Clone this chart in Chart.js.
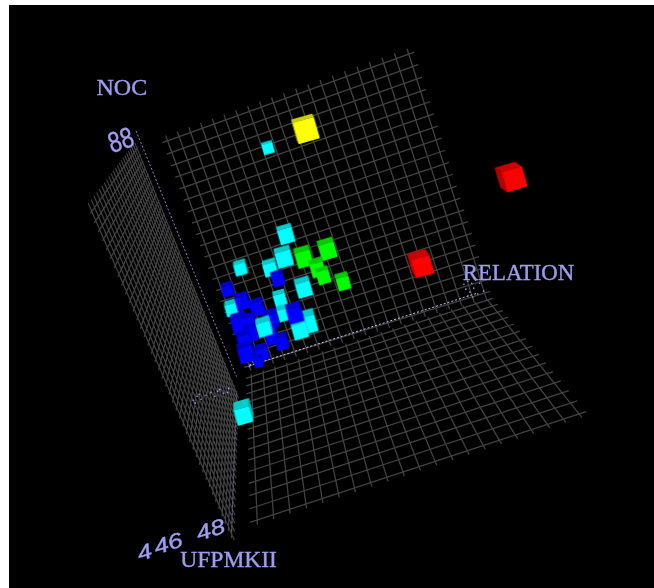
<!DOCTYPE html>
<html>
  <head>
    <script src="https://cdn.jsdelivr.net/npm/chart.js"></script>
    <style>
      body { margin: 0; background: #fff; }
      #cubes { position: absolute; left: 9px; top: 5px; }
    </style>
  </head>

  <body>
    <canvas id="cubes" width="645" height="583"></canvas>

    <script>
      // projected picture plane, one unit per pixel
      const planeX = [9, 654];
      const planeY = [5, 588];

      // 0 blue, 1 cyan, 2 green, 3 yellow, 4 red
      const levelColours = ["#0000ff", "#00ffff", "#00ff00", "#ffff00", "#ff0000"];

      // cubes, painted in this order
      const cubeX = [267, 285, 283, 239, 269, 303, 279, 230, 307, 299, 242,
                     303, 327, 317, 323, 343, 305, 514, 422,
                     277, 226, 241, 256, 270, 238, 248, 250, 243, 271, 281, 245, 261, 257,
                     283, 263, 294];
      const cubeY = [145, 233, 256, 267, 267, 287, 298, 308, 322, 329, 414,
                     256, 248, 267, 275, 281, 126, 175, 263,
                     278, 289, 301, 307, 319, 323, 322, 333, 340, 337, 342, 353, 353, 362,
                     313, 327, 313];
      const cubeDepth = [11, 15, 16, 12, 13, 15, 12, 12, 17, 15, 16,
                         16, 16, 14, 13, 13, 22, 21, 19,
                         12, 11, 13, 13, 14, 15, 13, 13, 13, 12, 12, 15, 12, 9,
                         12, 14, 15];
      const cubeLevel = [1, 1, 1, 1, 1, 1, 1, 1, 1, 1, 1,
                         2, 2, 2, 2, 2, 3, 4, 4,
                         0, 0, 0, 0, 0, 0, 0, 0, 0, 0, 0, 0, 0, 0,
                         1, 1, 0];

      // wall outlines: back-left, back-right, front-right, front-left
      const backWall = [[165, 138], [410, 50], [487, 293], [248, 367]];
      const floorWall = [[250, 378], [490, 300], [583, 416], [256, 524]];
      const sideWall = [[88, 210], [134, 146], [235, 395], [230, 538]];
      const wallCells = { back: [20, 20], floor: [20, 14], side: [22, 40] };
      const wallWidths = { back: 1.3, floor: 1.3, side: 1.2 };

      // axes
      const nocAxis = [[133, 128], [235, 378]];
      const relationAxis = [[248, 367], [480, 293]];
      const ufpmkiiAxis = [[235, 395], [230, 537]];

      // tiny unreadable marks at the axis origins
      const smudgeX = [466, 470, 474, 478, 482, 486, 468, 472, 476, 480, 470, 475,
                       191, 195, 199, 204, 209, 213, 218, 222, 227, 193, 197, 216, 226,
                       246, 249, 252, 255, 248, 251];
      const smudgeY = [284, 281, 283, 280, 283, 291, 289, 292, 288, 294, 296, 297,
                       402, 398, 401, 397, 394, 398, 391, 395, 390, 405, 396, 393, 394,
                       363, 366, 364, 367, 368, 362];

      const axisNames = ["NOC", "RELATION", "UFPMKII"];
      const axisNameX = [118.5, 521.5, 227];
      const axisNameY = [85, 274, 565];
      const axisNameSize = [24, 22.8, 23.5];

      const tickLabels = ["88", "4", "46", "48"];
      const tickX = [118, 142, 166, 209];
      const tickY = [139, 558, 549, 535];

      const vanish = [245, 10];
      const gridColour = "#424242";
      const labelColour = "#9c9cf0";

      // unit square to wall outline
      function wallPoint(q, u, v) {
        const [[x0, y0], [x1, y1], [x2, y2], [x3, y3]] = q;
        const dx1 = x1 - x2, dx2 = x3 - x2, sx = x0 - x1 + x2 - x3;
        const dy1 = y1 - y2, dy2 = y3 - y2, sy = y0 - y1 + y2 - y3;
        const det = dx1 * dy2 - dx2 * dy1;
        const g = (sx * dy2 - dx2 * sy) / det;
        const h = (dx1 * sy - sx * dy1) / det;
        const w = g * u + h * v + 1;
        return {
          x: (x1 - x0 + g * x1) * u / w + (x3 - x0 + h * x3) * v / w + x0 / w,
          y: (y1 - y0 + g * y1) * u / w + (y3 - y0 + h * y3) * v / w + y0 / w,
        };
      }

      function wallLines(q, cells) {
        const over = 0.022;
        const pts = [];
        for (let i = 0; i <= cells[0]; i++) {
          pts.push(wallPoint(q, i / cells[0], -over), wallPoint(q, i / cells[0], 1 + over));
          pts.push({ x: NaN, y: NaN });
        }
        for (let j = 0; j <= cells[1]; j++) {
          pts.push(wallPoint(q, -over, j / cells[1]), wallPoint(q, 1 + over, j / cells[1]));
          pts.push({ x: NaN, y: NaN });
        }
        return pts;
      }

      function lineSet(data, colour, width, dash, order) {
        return {
          data: data,
          showLine: true,
          borderColor: colour,
          borderWidth: width,
          borderDash: dash,
          pointRadius: 0,
          spanGaps: false,
          order: order,
        };
      }

      function toPoints(pair) {
        return pair.map((p) => ({ x: p[0], y: p[1] }));
      }

      // cube picture with the front face turned like the back wall
      function cubeSprite(pt) {
        const s = pt.depth;
        const dx = vanish[0] - pt.x, dy = vanish[1] - pt.y;
        const dist = Math.hypot(dx, dy);
        const len = (s * dist) / 800;
        const o = [(dx / dist) * len, (dy / dist) * len];
        const a = (-16 * Math.PI) / 180;
        const e1 = [Math.cos(a) * s / 2, Math.sin(a) * s / 2];
        const e2 = [-Math.sin(a) * s / 2, Math.cos(a) * s / 2];
        const size = 2 * Math.ceil(s + len + 2);
        const c = document.createElement("canvas");
        c.width = size;
        c.height = size;
        const g = c.getContext("2d");
        // the point is the middle of the whole cube, not of its front face
        g.translate(size / 2 - o[0] / 2, size / 2 - o[1] / 2);
        const tl = [-e1[0] - e2[0], -e1[1] - e2[1]];
        const tr = [e1[0] - e2[0], e1[1] - e2[1]];
        const br = [e1[0] + e2[0], e1[1] + e2[1]];
        const bl = [-e1[0] + e2[0], -e1[1] + e2[1]];
        const colour = levelColours[pt.level];
        const face = (p, q, dark) => {
          g.beginPath();
          g.moveTo(p[0], p[1]);
          g.lineTo(q[0], q[1]);
          g.lineTo(q[0] + o[0], q[1] + o[1]);
          g.lineTo(p[0] + o[0], p[1] + o[1]);
          g.closePath();
          g.fillStyle = colour;
          g.fill();
          g.fillStyle = `rgba(0,0,0,${dark})`;
          g.fill();
        };
        if (o[0] * e1[0] + o[1] * e1[1] < 0) face(tl, bl, 0.3);
        else face(tr, br, 0.3);
        face(tl, tr, 0.2);
        g.beginPath();
        g.moveTo(tl[0], tl[1]);
        g.lineTo(tr[0], tr[1]);
        g.lineTo(br[0], br[1]);
        g.lineTo(bl[0], bl[1]);
        g.closePath();
        g.fillStyle = colour;
        g.fill();
        return c;
      }

      const wallText = {
        id: "wallText",
        afterDraw(chart) {
          const c = chart.ctx;
          const sx = chart.scales.x, sy = chart.scales.y;
          c.save();
          c.fillStyle = labelColour;
          c.strokeStyle = labelColour;
          c.lineWidth = 0.4;
          c.textAlign = "center";
          c.textBaseline = "middle";
          axisNames.forEach((name, i) => {
            const px = sx.getPixelForValue(axisNameX[i]);
            const py = sy.getPixelForValue(axisNameY[i]);
            c.font = `${axisNameSize[i]}px "Liberation Serif"`;
            c.fillText(name, px, py);
            c.strokeText(name, px, py);
          });
          tickLabels.forEach((t, i) => {
            c.save();
            c.translate(sx.getPixelForValue(tickX[i]), sy.getPixelForValue(tickY[i]));
            c.rotate((-18 * Math.PI) / 180);
            if (i === 0) {
              c.font = '24px "Liberation Sans"';
              c.scale(0.95, 1.2);
            } else {
              c.font = 'italic 21px "Liberation Sans"';
              c.scale(1.25, 1);
            }
            c.fillText(t, 0, 0);
            c.strokeText(t, 0, 0);
            c.restore();
          });
          c.restore();
        },
      };

      new Chart(document.getElementById("cubes").getContext("2d"), {
        type: "scatter",
        data: {
          datasets: [
            lineSet(wallLines(backWall, wallCells.back), gridColour, wallWidths.back, [], 9),
            lineSet(wallLines(floorWall, wallCells.floor), gridColour, wallWidths.floor, [], 9),
            lineSet(wallLines(sideWall, wallCells.side), gridColour, wallWidths.side, [], 9),
            lineSet(toPoints(nocAxis), "#8484cc", 1, [2, 2], 8),
            lineSet(toPoints(relationAxis), "#c8c8f4", 1, [2, 2], 8),
            lineSet(toPoints(ufpmkiiAxis), "#60608c", 1, [2, 2], 8),
            {
              data: smudgeX.map((x, i) => ({ x: x, y: smudgeY[i] })),
              pointRadius: 0.8,
              pointBackgroundColor: "#a8a8ee",
              pointBorderWidth: 0,
              order: 7,
            },
            {
              data: cubeX.map((x, i) => ({
                x: x,
                y: cubeY[i],
                depth: cubeDepth[i],
                level: cubeLevel[i],
              })),
              pointStyle: (ctx) => (ctx.raw ? cubeSprite(ctx.raw) : "rect"),
              order: 1,
            },
          ],
        },
        options: {
          responsive: false,
          animation: false,
          layout: { padding: 0 },
          scales: {
            x: { type: "linear", display: false, min: planeX[0], max: planeX[1] },
            y: { type: "linear", display: false, min: planeY[0], max: planeY[1], reverse: true },
          },
          plugins: { legend: { display: false }, tooltip: { enabled: false } },
        },
        plugins: [
          {
            id: "blackPanel",
            beforeDraw(chart) {
              chart.ctx.fillStyle = "#000";
              chart.ctx.fillRect(0, 0, chart.width, chart.height);
            },
          },
          wallText,
        ],
      });
    </script>
  </body>
</html>
